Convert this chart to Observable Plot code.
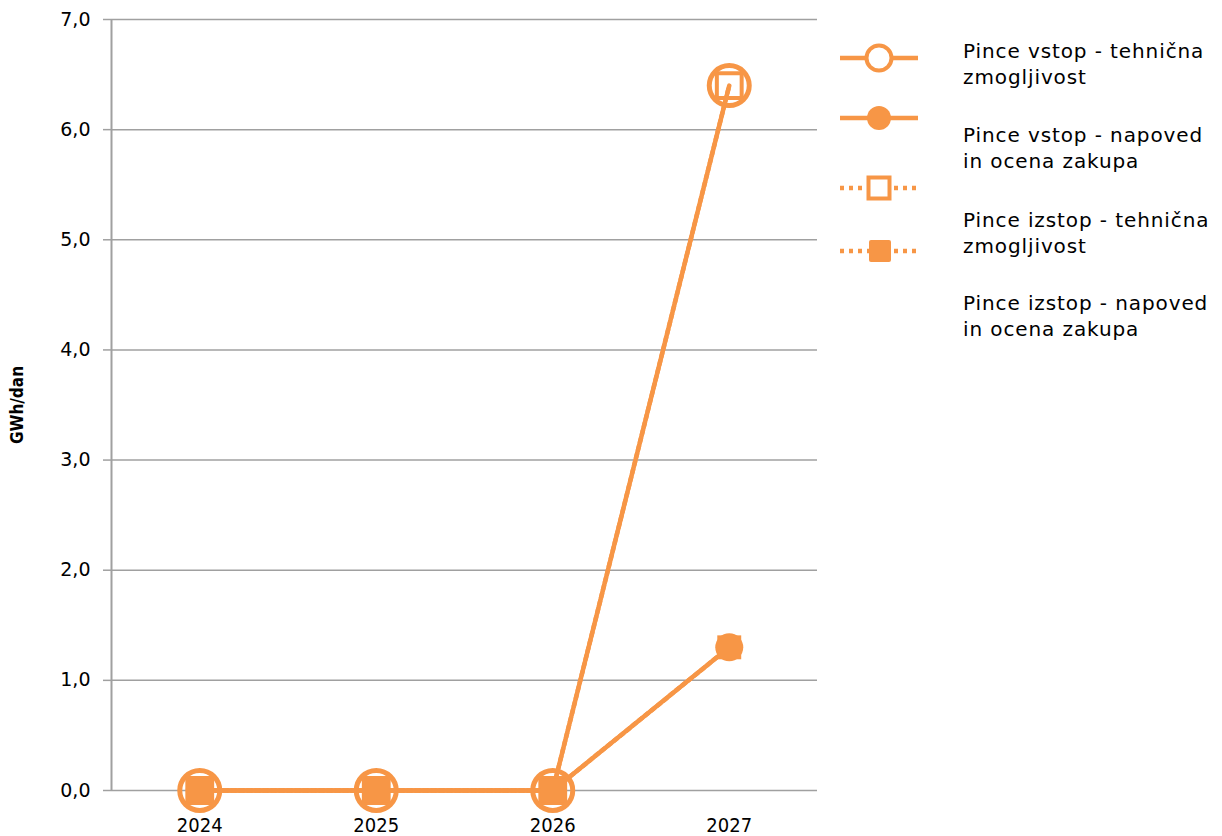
<!DOCTYPE html>
<html>
<head>
<meta charset="utf-8">
<script src="https://cdn.jsdelivr.net/npm/d3@7"></script>
<script src="https://cdn.jsdelivr.net/npm/@observablehq/plot@0.6"></script>
<style>
  html, body { margin: 0; padding: 0; background: #fff; }
  #wrap { position: relative; width: 1222px; height: 836px; }
  #chart { position: absolute; left: 0; top: 0; }
  #legend { position: absolute; left: 830px; top: 0; }
</style>
</head>
<body>
<div id="wrap">
  <div id="chart"></div>
  <svg id="legend" width="392" height="360"></svg>
</div>
<script>
// ---- data ----
const years = [2024, 2025, 2026, 2027];
const vstopTehnicna = [0, 0, 0, 6.4];
const vstopNapoved = [0, 0, 0, 1.3];
const izstopTehnicna = [0, 0, 0, 6.4];
const izstopNapoved = [0, 0, 0, 1.3];
const seriesNames = [
  ["Pince vstop - tehnična", "zmogljivost"],
  ["Pince vstop - napoved", "in ocena zakupa"],
  ["Pince izstop - tehnična", "zmogljivost"],
  ["Pince izstop - napoved", "in ocena zakupa"]
];
const yTicks = [0, 1, 2, 3, 4, 5, 6, 7];
const yLabel = "GWh/dan";

const ORANGE = "#F79646";
const GRID = "#A0A0A0";

const rows = (vals) => years.map((y, i) => ({year: y, value: vals[i]}));
const s1 = rows(vstopTehnicna), s2 = rows(vstopNapoved), s3 = rows(izstopTehnicna), s4 = rows(izstopNapoved);

const fmt = d => d.toFixed(1).replace(".", ",");

const chart = Plot.plot({
  width: 830,
  height: 836,
  marginLeft: 111,
  marginRight: 13,
  marginTop: 19,
  marginBottom: 46,
  x: {type: "linear", domain: [years[0] - 0.5, years[years.length - 1] + 0.5]},
  y: {domain: [0, 7]},
  style: {fontFamily: "DejaVu Sans", background: "#fff"},
  marks: [
    Plot.ruleY(yTicks, {stroke: GRID, strokeWidth: 1.5}),
    Plot.ruleX([years[0] - 0.5], {stroke: GRID, strokeWidth: 2}),
    Plot.axisY({ticks: yTicks, tickFormat: fmt, tickSize: 8, tickPadding: 13, stroke: GRID, strokeWidth: 1.5,
      fontSize: 19, fill: "#000", label: null}),
    Plot.axisX({ticks: years, tickFormat: d => String(d), tickSize: 0, tickPadding: 27,
      fontSize: 20, fontFamily: "DejaVu Sans Condensed", fill: "#000", label: null}),
    Plot.text([yLabel], {frameAnchor: "left", dx: -94, rotate: -90, textAnchor: "middle", fontSize: 17, fontWeight: "bold",
      fontFamily: "DejaVu Sans Condensed", fill: "#000"}),
    // series 1
    Plot.line(s1, {x: "year", y: "value", stroke: ORANGE, strokeWidth: 4.5}),
    Plot.dot(s1, {x: "year", y: "value", r: 20, stroke: ORANGE, strokeWidth: 5, fill: "none"}),
    // series 2
    Plot.line(s2, {x: "year", y: "value", stroke: ORANGE, strokeWidth: 4.5}),
    Plot.dot(s2, {x: "year", y: "value", r: 14, fill: ORANGE, stroke: "none"}),
    // series 3
    Plot.line(s3, {x: "year", y: "value", stroke: ORANGE, strokeWidth: 4.5, strokeDasharray: "4,4"}),
    Plot.dot(s3, {x: "year", y: "value", symbol: "square", r: 14, stroke: ORANGE, strokeWidth: 4, fill: "none"}),
    // series 4
    Plot.line(s4, {x: "year", y: "value", stroke: ORANGE, strokeWidth: 4.5, strokeDasharray: "4,4"}),
    Plot.dot(s4, {x: "year", y: "value", symbol: "square", r: 13.5, fill: ORANGE, stroke: "none"})
  ]
});
document.getElementById("chart").appendChild(chart);

// ---- legend ----
const legend = d3.select("#legend");
const symY = [58, 118, 188, 251];
const textY = [58, 142, 227, 310];
const kinds = ["openCircle", "filledCircle", "openSquare", "filledSquare"];
kinds.forEach((k, i) => {
  const g = legend.append("g");
  const y = symY[i];
  const dashed = k.includes("Square");
  g.append("line").attr("x1", 10).attr("x2", 88).attr("y1", y).attr("y2", y)
    .attr("stroke", ORANGE).attr("stroke-width", 4.5)
    .attr("stroke-dasharray", dashed ? "4,5" : null);
  if (k === "openCircle") {
    g.append("circle").attr("cx", 49).attr("cy", y).attr("r", 12.5).attr("fill", "#fff")
      .attr("stroke", ORANGE).attr("stroke-width", 4);
  } else if (k === "filledCircle") {
    g.append("circle").attr("cx", 49).attr("cy", y).attr("r", 12).attr("fill", ORANGE);
  } else if (k === "openSquare") {
    g.append("rect").attr("x", 38.5).attr("y", y - 10.5).attr("width", 21).attr("height", 21)
      .attr("fill", "#fff").attr("stroke", ORANGE).attr("stroke-width", 4);
  } else {
    g.append("rect").attr("x", 39).attr("y", y - 11).attr("width", 22).attr("height", 22)
      .attr("rx", 2).attr("fill", ORANGE);
  }
  const t = legend.append("text").attr("font-family", "DejaVu Sans").attr("font-size", 20)
    .attr("letter-spacing", 0.9).attr("fill", "#000");
  seriesNames[i].forEach((line, j) => {
    t.append("tspan").attr("x", 133).attr("y", textY[i] + j * 26).text(line);
  });
});
</script>
</body>
</html>
